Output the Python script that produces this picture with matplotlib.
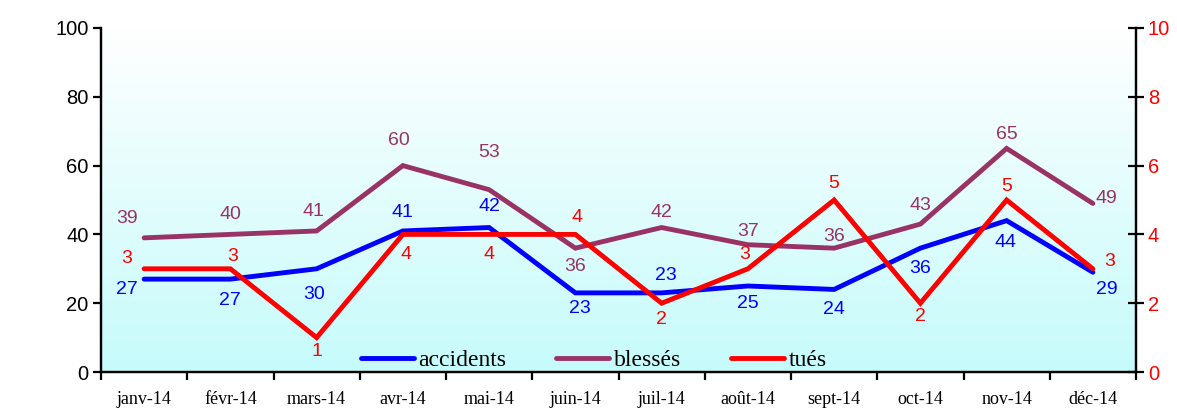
import numpy as np
import matplotlib
matplotlib.use("Agg")
import matplotlib.pyplot as plt
from matplotlib.colors import LinearSegmentedColormap

months = ["janv-14", "févr-14", "mars-14", "avr-14", "mai-14", "juin-14",
          "juil-14", "août-14", "sept-14", "oct-14", "nov-14", "déc-14"]
accidents = [27, 27, 30, 41, 42, 23, 23, 25, 24, 36, 44, 29]
blesses = [39, 40, 41, 60, 53, 36, 42, 37, 36, 43, 65, 49]
tues = [3, 3, 1, 4, 4, 4, 2, 3, 5, 2, 5, 3]

# label offsets in pixels (dx, dy) - styling only
acc_off = [(-17, -10), (-1, -21), (-3, -26), (0, 18), (0, 21), (5, -16),
           (4, 17), (0, -18), (0, -20), (0, -20), (-1, -22), (14, -17)]
ble_off = [(-17, 19), (0, 20), (-3, 19), (-4, 25), (0, 37), (0, -18),
           (0, 15), (0, 13), (0, 12), (0, 19), (0, 14), (14, 5)]
tue_off = [(-17, 10), (2, 12), (0, -14), (3, -20), (0, -20), (2, 17),
           (0, -16), (-3, 14), (0, 16), (0, -13), (0, 13), (17, 7)]

BLUE = "#0000ff"
PURPLE = "#993366"
RED = "#ff0000"

fig = plt.figure(figsize=(11.77, 4.13), dpi=100)
ax = fig.add_axes([101/1177, 41/413, (1136-101)/1177, (372-28)/413])
ax2 = ax.twinx()

x = np.arange(len(months))

# gradient background
cmap = LinearSegmentedColormap.from_list("bg", ["#c6fbfb", "#ffffff"])
grad = np.linspace(0, 1, 256).reshape(-1, 1)
ax.imshow(grad, aspect="auto", cmap=cmap, origin="lower",
          extent=[0, 1, 0, 1], transform=ax.transAxes, zorder=0)
ax.set_xlim(-0.5, len(months) - 0.5)
ax.set_ylim(0, 100)
ax2.set_ylim(0, 10)

la, = ax.plot(x, accidents, color=BLUE, lw=3.5, solid_capstyle="round",
              solid_joinstyle="miter", zorder=3, label="accidents")
lb, = ax.plot(x, blesses, color=PURPLE, lw=3.5, solid_capstyle="round",
              solid_joinstyle="miter", zorder=3, label="blessés")
lt, = ax2.plot(x, tues, color=RED, lw=3.5, solid_capstyle="round",
               solid_joinstyle="miter", zorder=3, label="tués")

lab_font = dict(family="Liberation Sans", fontsize=14)
for xi, v, (dx, dy) in zip(x, accidents, acc_off):
    ax.annotate(str(v), (xi, v), xytext=(dx * 0.72, dy * 0.72),
                textcoords="offset points", ha="center", va="center",
                color=BLUE, zorder=5, **lab_font)
for xi, v, (dx, dy) in zip(x, blesses, ble_off):
    ax.annotate(str(v), (xi, v), xytext=(dx * 0.72, dy * 0.72),
                textcoords="offset points", ha="center", va="center",
                color=PURPLE, zorder=5, **lab_font)
for xi, v, (dx, dy) in zip(x, tues, tue_off):
    ax2.annotate(str(v), (xi, v), xytext=(dx * 0.72, dy * 0.72),
                 textcoords="offset points", ha="center", va="center",
                 color=RED, zorder=5, **lab_font)

# axes styling
ax.spines["top"].set_visible(False)
ax2.spines["top"].set_visible(False)
for a in (ax, ax2):
    for sp in ["left", "right", "bottom"]:
        a.spines[sp].set_linewidth(1.6)

ax.set_yticks([0, 20, 40, 60, 80, 100])
ax.tick_params(axis="y", direction="out", length=6, width=1.6, labelsize=14.5,
               pad=3)
for t in ax.get_yticklabels():
    t.set_family("Liberation Sans")

ax2.set_yticks([0, 2, 4, 6, 8, 10])
ax2.tick_params(axis="y", direction="inout", length=11, width=1.6,
                labelsize=14.5, labelcolor=RED, pad=3)
for t in ax2.get_yticklabels():
    t.set_family("Liberation Sans")

ax.set_xticks(np.arange(len(months) + 1) - 0.5, minor=False)
ax.set_xticklabels([])
ax.set_xticks(x, minor=True)
ax.set_xticklabels(months, minor=True, family="Liberation Serif", fontsize=13)
ax.tick_params(axis="x", which="major", direction="out", length=6, width=1.6)
ax.tick_params(axis="x", which="minor", length=0, pad=14)

leg = ax.legend(handles=[la, lb, lt], loc="lower center",
                bbox_to_anchor=(0.476, -0.025), ncol=3, frameon=False,
                prop=dict(family="Liberation Serif", size=17),
                handlelength=2.25, handletextpad=0.2, columnspacing=2.1,
                borderaxespad=0)
leg.set_zorder(6)

fig.savefig("out.png", dpi=100)
